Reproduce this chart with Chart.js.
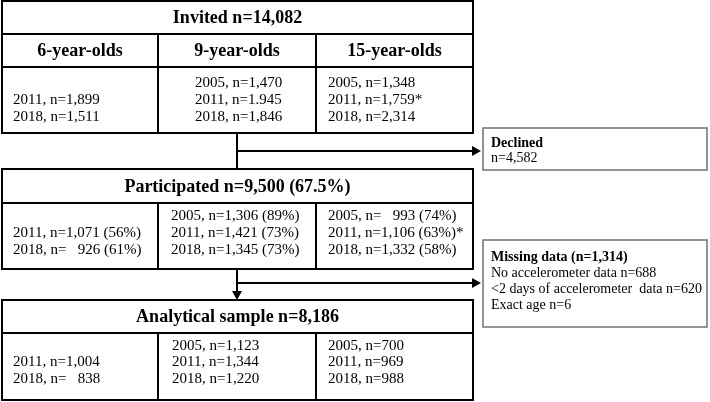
<!DOCTYPE html>
<html>
<head>
<meta charset="utf-8">
<script src="https://cdn.jsdelivr.net/npm/chart.js@4.4.1/dist/chart.umd.min.js"></script>
<style>
  html, body { margin: 0; padding: 0; background: #fff; }
  canvas { display: block; }
</style>
</head>
<body>
<canvas id="flowChart" width="710" height="402"></canvas>
<script>
// Stages of the flow and their texts
const stageTitles = ['Invited n=14,082', 'Participated n=9,500 (67.5%)', 'Analytical sample n=8,186'];
const ageGroups = ['6-year-olds', '9-year-olds', '15-year-olds'];

const invitedRows = [
  ['2011, n=1,899', '2018, n=1,511'],
  ['2005, n=1,470', '2011, n=1.945', '2018, n=1,846'],
  ['2005, n=1,348', '2011, n=1,759*', '2018, n=2,314']
];
const participatedRows = [
  ['2011, n=1,071 (56%)', '2018, n=   926 (61%)'],
  ['2005, n=1,306 (89%)', '2011, n=1,421 (73%)', '2018, n=1,345 (73%)'],
  ['2005, n=   993 (74%)', '2011, n=1,106 (63%)*', '2018, n=1,332 (58%)']
];
const analyticalRows = [
  ['2011, n=1,004', '2018, n=   838'],
  ['2005, n=1,123', '2011, n=1,344', '2018, n=1,220'],
  ['2005, n=700', '2011, n=969', '2018, n=988']
];
const declinedLines = ['Declined', 'n=4,582'];
const missingLines = ['Missing data (n=1,314)', 'No accelerometer data n=688', '<2 days of accelerometer  data n=620', 'Exact age n=6'];

document.addEventListener('DOMContentLoaded', function() {
  const serif = '"Liberation Serif", "Times New Roman", serif';

  // layout in chart units (x 0..710, y 0..402 top-down)
  const colEdges = [2, 158, 316, 473];
  const lineStep = 16.7;
  const blocks = [
    { top: 1, head: 34, sub: 67, bottom: 133, rows: invitedRows, shift: 0, textX: [13, 195, 328] },
    { top: 169, head: 203, bottom: 269, rows: participatedRows, shift: -3, textX: [13, 171, 328] },
    { top: 300, head: 333, bottom: 400, rows: analyticalRows, shift: -4, textX: [13, 172, 328] }
  ];
  const sideBoxes = [
    { left: 483, right: 707, top: 128, bottom: 170, lines: declinedLines, y0: 143, step: 15 },
    { left: 483, right: 707, top: 240, bottom: 327, lines: missingLines, y0: 257, step: 16 }
  ];
  const stemX = 237;

  const flowPlugin = {
    id: 'flow',
    afterDraw(chart) {
      const c = chart.ctx;
      const sx = chart.scales.x, sy = chart.scales.y;
      const px = v => sx.getPixelForValue(v);
      const py = v => sy.getPixelForValue(v);

      function line(x1, y1, x2, y2, color, w) {
        c.beginPath();
        c.strokeStyle = color || '#000';
        c.lineWidth = w || 2;
        c.moveTo(px(x1), py(y1));
        c.lineTo(px(x2), py(y2));
        c.stroke();
      }
      function rect(l, t, r, b, color, w) {
        c.strokeStyle = color || '#000';
        c.lineWidth = w || 2;
        c.strokeRect(px(l), py(t), px(r) - px(l), py(b) - py(t));
      }
      function text(str, x, y, font, align) {
        c.font = font;
        c.fillStyle = '#000';
        c.textAlign = align || 'left';
        c.textBaseline = 'middle';
        c.fillText(str, px(x), py(y));
      }
      function arrowHead(x, y, dir) {
        c.beginPath();
        c.fillStyle = '#000';
        if (dir === 'right') {
          c.moveTo(px(x), py(y));
          c.lineTo(px(x - 9), py(y - 5));
          c.lineTo(px(x - 9), py(y + 5));
        } else {
          c.moveTo(px(x), py(y));
          c.lineTo(px(x - 5), py(y - 9));
          c.lineTo(px(x + 5), py(y - 9));
        }
        c.closePath();
        c.fill();
      }

      c.save();
      // connectors
      line(stemX, blocks[0].bottom, stemX, blocks[1].top);
      line(stemX, 151, 472, 151);
      arrowHead(481, 151, 'right');
      line(stemX, blocks[1].bottom, stemX, blocks[2].top - 8);
      arrowHead(stemX, blocks[2].top, 'down');
      line(stemX, 283, 472, 283);
      arrowHead(481, 283, 'right');

      blocks.forEach((b, i) => {
        rect(colEdges[0], b.top, colEdges[3], b.bottom);
        line(colEdges[0], b.head, colEdges[3], b.head);
        text(stageTitles[i], (colEdges[0] + colEdges[3]) / 2, (b.top + b.head) / 2 + 1, 'bold 18px ' + serif, 'center');
        let rowTop = b.head;
        if (b.sub) {
          line(colEdges[0], b.sub, colEdges[3], b.sub);
          ageGroups.forEach((g, k) => {
            text(g, (colEdges[k] + colEdges[k + 1]) / 2, (b.head + b.sub) / 2 + 1, 'bold 18px ' + serif, 'center');
          });
          rowTop = b.sub;
        }
        line(colEdges[1], b.head, colEdges[1], b.bottom);
        line(colEdges[2], b.head, colEdges[2], b.bottom);
        const mid = (rowTop + b.bottom) / 2 + b.shift;
        b.rows.forEach((rows, k) => {
          const offset = 3 - rows.length; // 2-line cells sit on the lower lines
          rows.forEach((s, j) => {
            text(s, b.textX[k], mid + (j + offset - 1) * lineStep, '15px ' + serif);
          });
        });
      });

      sideBoxes.forEach(s => {
        rect(s.left, s.top, s.right, s.bottom, '#707070', 1.5);
        s.lines.forEach((str, j) => {
          text(str, 491, s.y0 + j * s.step, (j === 0 ? 'bold ' : '') + '14px ' + serif);
        });
      });
      c.restore();
    }
  };

  const ctx = document.getElementById('flowChart').getContext('2d');
  new Chart(ctx, {
    type: 'scatter',
    data: { datasets: [] },
    options: {
      responsive: false,
      animation: false,
      layout: { padding: 0 },
      scales: {
        x: { type: 'linear', min: 0, max: 710, display: false },
        y: { type: 'linear', min: 0, max: 402, reverse: true, display: false }
      },
      plugins: {
        legend: { display: false },
        tooltip: { enabled: false }
      }
    },
    plugins: [flowPlugin]
  });
});
</script>
</body>
</html>
